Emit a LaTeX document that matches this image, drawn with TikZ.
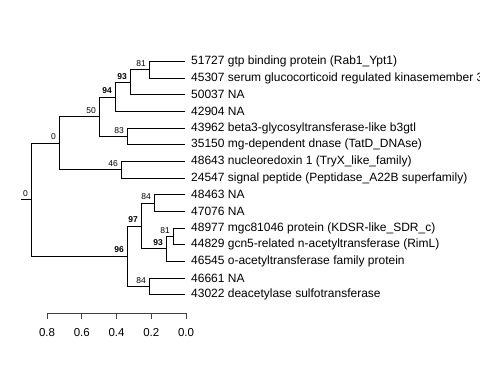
\documentclass[tikz,border=0pt]{standalone}
\usepackage{fontspec}
\setmainfont{Liberation Sans}
\begin{document}
\begin{tikzpicture}[x=1pt,y=-1pt,
  br/.style={line width=0.8pt,black},
  leaf/.style={anchor=west,inner sep=0pt,font=\fontsize{12}{13}\selectfont},
  bs/.style={anchor=south east,inner sep=0pt,xshift=-3pt,yshift=3pt,font=\fontsize{8.5}{9}\selectfont,text=black},
  bsb/.style={bs,font=\fontsize{8.5}{9}\selectfont\bfseries},
  tick/.style={anchor=north,inner sep=0pt,font=\fontsize{11.5}{12}\selectfont}]
\clip (0,0) rectangle (480,384);
% leaves
\foreach \i/\t in {0/{51727 gtp binding protein (Rab1\_Ypt1)},
  1/{45307 serum glucocorticoid regulated kinasemember 3},
  2/{50037 NA},3/{42904 NA},
  4/{43962 beta3-glycosyltransferase-like b3gtl},
  5/{35150 mg-dependent dnase (TatD\_DNAse)},
  6/{48643 nucleoredoxin 1 (TryX\_like\_family)},
  7/{24547 signal peptide (Peptidase\_A22B superfamily)},
  8/{48463 NA},9/{47076 NA},
  10/{48977 mgc81046 protein (KDSR-like\_SDR\_c)},
  11/{44829 gcn5-related n-acetyltransferase (RimL)},
  12/{46545 o-acetyltransferase family protein},
  13/{46661 NA},14/{43022 deacetylase sulfotransferase}}{
  \coordinate (L\i) at (185,{61.5+16.65*\i});
  \node[leaf] (T\i) at (191,{61.5+16.65*\i}) {\t};
}
% internal nodes
\coordinate (N81) at (149,69.85);
\coordinate (N93) at (130,82.3);
\coordinate (N94) at (115,96.9);
\coordinate (N83) at (127,136.45);
\coordinate (N50) at (99,116.7);
\coordinate (N46) at (121,169.75);
\coordinate (NA) at (59,143.2);
\coordinate (N84a) at (154,203);
\coordinate (N81b) at (173,236.35);
\coordinate (N93b) at (166,248.8);
\coordinate (N97) at (141,225.9);
\coordinate (N84b) at (149,286.3);
\coordinate (N96) at (127,256.1);
\coordinate (R) at (31,199.65);
\coordinate (R0) at (21,199.65);
% branches
\foreach \p/\c in {N81/L0,N81/L1,N93/N81,N93/L2,N94/N93,N94/L3,N83/L4,N83/L5,
  N50/N94,N50/N83,N46/L6,N46/L7,NA/N50,NA/N46,
  N84a/L8,N84a/L9,N81b/L10,N81b/L11,N93b/N81b,N93b/L12,N97/N84a,N97/N93b,
  N84b/L13,N84b/L14,N96/N97,N96/N84b,R/NA,R/N96}{
  \draw[br] (\p) |- (\c);
}
\draw[br] (R0) -- (R);
% bootstrap labels
\node[bs] (b81) at (N81) {81};
\node[bsb] (b93) at (N93) {93};
\node[bsb] (b94) at (N94) {94};
\node[bs] (b83) at (N83) {83};
\node[bs] (b50) at (N50) {50};
\node[bs] (b46) at (N46) {46};
\node[bs] (bA) at (NA) {0};
\node[bs] (b84a) at (N84a) {84};
\node[bs] (b81b) at (N81b) {81};
\node[bsb] (b93b) at (N93b) {93};
\node[bsb] (b97) at (N97) {97};
\node[bs] (b84b) at (N84b) {84};
\node[bsb] (b96) at (N96) {96};
\node[bs] (bR) at (R) {0};
% axis
\coordinate (X0) at (47,313);
\coordinate (X1) at (186,313);
\draw[br,black!75] (X0) -- (X1);
\foreach \v/\x [count=\k] in {0.8/47,0.6/81.75,0.4/116.5,0.2/151.25,0.0/186}{
  \coordinate (k\k) at (\x,313);
  \draw[br,black!75] (k\k) -- ++(0,6);
  \node[tick] (t\k) at (\x,328) {\v};
}
\end{tikzpicture}
\end{document}
